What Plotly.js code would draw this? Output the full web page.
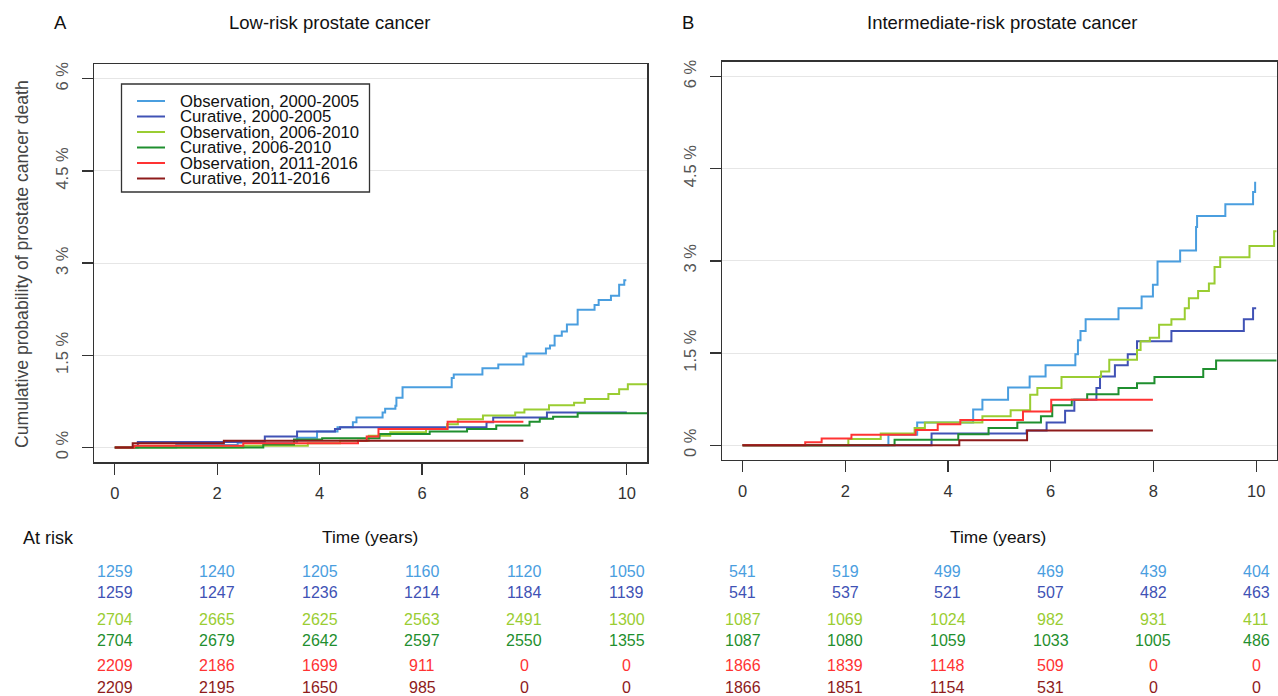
<!DOCTYPE html>
<html>
<head>
<meta charset="utf-8">
<script src="https://cdn.plot.ly/plotly-3.0.1.min.js"></script>
<style>
html,body{margin:0;padding:0;background:#fff;}
#chart{width:1278px;height:696px;}
</style>
</head>
<body>
<div id="chart"></div>
<script>
// ---------- DATA ----------
const seriesNames = ["Observation, 2000-2005","Curative, 2000-2005","Observation, 2006-2010","Curative, 2006-2010","Observation, 2011-2016","Curative, 2011-2016"];

// Panel A: Low-risk prostate cancer (time in years, cumulative probability in %)
const lowObs0005_t = [0, 1.2, 2.4, 3.56, 3.95, 4.35, 4.65, 4.72, 5.23, 5.28, 5.48, 5.5, 5.62, 6.58, 6.62, 7.18, 7.49, 7.98, 8.04, 8.42, 8.5, 8.59, 8.73, 8.83, 9.04, 9.37, 9.45, 9.69, 9.85, 9.95, 9.99];
const lowObs0005_p = [0, 0.04, 0.08, 0.16, 0.26, 0.33, 0.41, 0.49, 0.57, 0.63, 0.68, 0.81, 0.98, 1.13, 1.19, 1.29, 1.35, 1.48, 1.53, 1.61, 1.66, 1.82, 1.89, 2.0, 2.24, 2.32, 2.4, 2.47, 2.65, 2.72, 2.72];
const lowCur0005_t = [0, 0.45, 2.93, 3.56, 4.3, 4.4, 7.26, 7.39, 8.44, 10.0];
const lowCur0005_p = [0, 0.09, 0.18, 0.26, 0.30, 0.33, 0.41, 0.49, 0.57, 0.57];
const lowObs0610_t = [0, 2.51, 3.77, 4.40, 4.96, 5.38, 6.08, 6.49, 6.70, 7.19, 7.82, 8.0, 8.48, 8.97, 9.18, 9.64, 9.85, 10.02, 10.4];
const lowObs0610_p = [0, 0.03, 0.07, 0.11, 0.19, 0.25, 0.30, 0.38, 0.46, 0.52, 0.57, 0.62, 0.69, 0.73, 0.79, 0.87, 0.95, 1.03, 1.03];
const lowCur0610_t = [0, 2.9, 3.5, 4.05, 5.17, 6.15, 6.88, 7.45, 8.1, 8.3, 8.56, 9.04, 10.4];
const lowCur0610_p = [0, 0.05, 0.13, 0.15, 0.22, 0.26, 0.30, 0.36, 0.42, 0.47, 0.50, 0.56, 0.56];
const lowObs1116_t = [0, 0.38, 2.51, 4.75, 4.92, 5.15, 6.5, 7.98];
const lowObs1116_p = [0, 0.03, 0.07, 0.11, 0.18, 0.30, 0.42, 0.42];
const lowCur1116_t = [0, 0.35, 2.13, 7.98];
const lowCur1116_p = [0, 0.07, 0.11, 0.11];

// Panel B: Intermediate-risk prostate cancer
const intObs0005_t = [0, 2.84, 3.40, 4.49, 4.67, 5.17, 5.59, 5.90, 6.48, 6.53, 6.58, 6.68, 7.32, 7.77, 7.99, 8.08, 8.52, 8.83, 8.85, 9.40, 9.94, 9.98, 10.0];
const intObs0005_p = [0, 0.17, 0.37, 0.58, 0.74, 0.94, 1.12, 1.30, 1.48, 1.71, 1.86, 2.05, 2.23, 2.42, 2.61, 2.99, 3.17, 3.55, 3.73, 3.92, 4.12, 4.27, 4.27];
const intCur0005_t = [0, 3.68, 5.53, 5.92, 6.28, 6.46, 6.89, 6.96, 7.25, 7.50, 7.68, 8.35, 9.76, 9.94, 10.0];
const intCur0005_p = [0, 0.19, 0.24, 0.37, 0.56, 0.74, 0.93, 1.12, 1.30, 1.48, 1.69, 1.86, 2.05, 2.23, 2.23];
const intObs0610_t = [0, 2.06, 2.69, 3.35, 3.55, 4.67, 5.22, 5.60, 5.74, 6.21, 6.98, 7.14, 7.68, 7.75, 7.93, 8.11, 8.35, 8.61, 8.69, 8.87, 9.08, 9.19, 9.30, 9.87, 10.35, 10.4];
const intObs0610_p = [0, 0.10, 0.19, 0.28, 0.37, 0.47, 0.57, 0.82, 0.93, 1.11, 1.20, 1.39, 1.55, 1.69, 1.75, 1.96, 2.05, 2.23, 2.39, 2.51, 2.63, 2.90, 3.06, 3.24, 3.48, 3.48];
const intCur0610_t = [0, 2.96, 4.20, 4.79, 5.35, 5.81, 6.03, 6.41, 6.71, 7.32, 7.68, 8.02, 8.97, 9.22, 10.4];
const intCur0610_p = [0, 0.09, 0.18, 0.28, 0.37, 0.47, 0.65, 0.74, 0.83, 0.93, 1.01, 1.11, 1.24, 1.38, 1.38];
const intObs1116_t = [0, 1.22, 1.54, 2.12, 3.37, 3.80, 4.24, 5.46, 6.01, 7.99];
const intObs1116_p = [0, 0.05, 0.11, 0.17, 0.25, 0.34, 0.41, 0.55, 0.74, 0.74];
const intCur1116_t = [0, 4.22, 5.54, 7.99];
const intCur1116_p = [0, 0.08, 0.24, 0.24];

// Numbers at risk
const riskTimes = [0, 2, 4, 6, 8, 10];
const lowRiskObs0005 = [1259, 1240, 1205, 1160, 1120, 1050];
const lowRiskCur0005 = [1259, 1247, 1236, 1214, 1184, 1139];
const lowRiskObs0610 = [2704, 2665, 2625, 2563, 2491, 1300];
const lowRiskCur0610 = [2704, 2679, 2642, 2597, 2550, 1355];
const lowRiskObs1116 = [2209, 2186, 1699, 911, 0, 0];
const lowRiskCur1116 = [2209, 2195, 1650, 985, 0, 0];
const intRiskObs0005 = [541, 519, 499, 469, 439, 404];
const intRiskCur0005 = [541, 537, 521, 507, 482, 463];
const intRiskObs0610 = [1087, 1069, 1024, 982, 931, 411];
const intRiskCur0610 = [1087, 1080, 1059, 1033, 1005, 486];
const intRiskObs1116 = [1866, 1839, 1148, 509, 0, 0];
const intRiskCur1116 = [1866, 1851, 1154, 531, 0, 0];

const yTickVals = [0, 1.5, 3, 4.5, 6];
const yTickText = ["0 %", "1.5 %", "3 %", "4.5 %", "6 %"];

// ---------- STYLE ----------
const seriesColors = ["#4A9EDF", "#4052B5", "#9ACD32", "#1F8F2F", "#FF3333", "#8E1B1B"];
const W = 1278, H = 696;
const px = v => v / W;
const py = v => 1 - v / H;
const FONT = "Liberation Sans, Arial, Helvetica, sans-serif";

const lowT = [lowObs0005_t, lowCur0005_t, lowObs0610_t, lowCur0610_t, lowObs1116_t, lowCur1116_t];
const lowP = [lowObs0005_p, lowCur0005_p, lowObs0610_p, lowCur0610_p, lowObs1116_p, lowCur1116_p];
const intT = [intObs0005_t, intCur0005_t, intObs0610_t, intCur0610_t, intObs1116_t, intCur1116_t];
const intP = [intObs0005_p, intCur0005_p, intObs0610_p, intCur0610_p, intObs1116_p, intCur1116_p];
const lowRisk = [lowRiskObs0005, lowRiskCur0005, lowRiskObs0610, lowRiskCur0610, lowRiskObs1116, lowRiskCur1116];
const intRisk = [intRiskObs0005, intRiskCur0005, intRiskObs0610, intRiskCur0610, intRiskObs1116, intRiskCur1116];

const traces = [];
for (let i = 0; i < 6; i++) {
  traces.push({x: lowT[i], y: lowP[i], xaxis: 'x', yaxis: 'y', type: 'scatter', mode: 'lines',
    line: {shape: 'hv', color: seriesColors[i], width: 2}, name: seriesNames[i], showlegend: false, hoverinfo: 'skip'});
}
for (let i = 0; i < 6; i++) {
  traces.push({x: intT[i], y: intP[i], xaxis: 'x2', yaxis: 'y2', type: 'scatter', mode: 'lines',
    line: {shape: 'hv', color: seriesColors[i], width: 2}, name: seriesNames[i], showlegend: false, hoverinfo: 'skip'});
}

function xAxis(dom, anchor) {
  return {domain: dom, anchor: anchor, range: [-0.4, 10.4], tickvals: [0, 2, 4, 6, 8, 10],
    ticks: 'outside', ticklen: 11, tickwidth: 1.3, tickcolor: '#333',
    showline: true, mirror: true, linecolor: '#333', linewidth: 1.3,
    showgrid: false, zeroline: false, ticklabelstandoff: 5,
    tickfont: {family: FONT, size: 16.5, color: '#333'}, fixedrange: true};
}
function yAxis(dom, anchor) {
  return {domain: dom, anchor: anchor, range: [-0.24, 6.24], tickvals: yTickVals, ticktext: yTickText,
    tickangle: -90, ticks: 'outside', ticklen: 11, tickwidth: 1.3, tickcolor: '#333',
    showline: true, mirror: true, linecolor: '#333', linewidth: 1.3,
    showgrid: true, gridcolor: '#e6e6e6', gridwidth: 1, zeroline: false, ticklabelstandoff: 7,
    tickfont: {family: FONT, size: 16.5, color: '#555'}, fixedrange: true};
}

const annotations = [];
const shapes = [];
function txt(x, y, s, opts) {
  annotations.push(Object.assign({xref: 'paper', yref: 'paper', x: px(x), y: py(y), text: s, showarrow: false,
    xanchor: 'center', yanchor: 'middle', font: {family: FONT, size: 16, color: '#111'}}, opts || {}));
}
const titleFont = {family: FONT, size: 18.5, color: '#111'};
txt(60, 22, 'A', {font: titleFont});
txt(330, 22, 'Low-risk prostate cancer', {font: titleFont});
txt(688, 22, 'B', {font: titleFont});
txt(1002, 22, 'Intermediate-risk prostate cancer', {font: titleFont});
txt(370, 537, 'Time (years)', {font: {family: FONT, size: 17.3, color: '#111'}});
txt(998, 537, 'Time (years)', {font: {family: FONT, size: 17.3, color: '#111'}});
txt(21, 538, 'At risk', {xanchor: 'left', font: {family: FONT, size: 18, color: '#111'}});
txt(22, 264, 'Cumulative probability of prostate cancer death', {textangle: -90, font: {family: FONT, size: 17.6, color: '#444'}});

// at-risk table
const rowY = [571, 592, 619, 640, 665, 687];
for (let i = 0; i < 6; i++) {
  for (let j = 0; j < riskTimes.length; j++) {
    annotations.push({xref: 'x', yref: 'paper', x: riskTimes[j], y: py(rowY[i]), text: String(lowRisk[i][j]),
      showarrow: false, xanchor: 'center', yanchor: 'middle', font: {family: FONT, size: 16, color: seriesColors[i]}});
    annotations.push({xref: 'x2', yref: 'paper', x: riskTimes[j], y: py(rowY[i]), text: String(intRisk[i][j]),
      showarrow: false, xanchor: 'center', yanchor: 'middle', font: {family: FONT, size: 16, color: seriesColors[i]}});
  }
}

// legend (panel A)
shapes.push({type: 'rect', xref: 'paper', yref: 'paper', x0: px(121.5), x1: px(369.5), y0: py(192), y1: py(84),
  line: {color: '#333', width: 1.3}, fillcolor: 'white', layer: 'above'});
const legY = [101, 116.5, 132, 147.5, 163, 178.5];
for (let i = 0; i < 6; i++) {
  shapes.push({type: 'line', xref: 'paper', yref: 'paper', x0: px(137), x1: px(165), y0: py(legY[i]), y1: py(legY[i]),
    line: {color: seriesColors[i], width: 2}, layer: 'above'});
  txt(178, legY[i], seriesNames[i], {xanchor: 'left', font: {family: FONT, size: 16.7, color: '#111'}});
}

const layout = {
  width: W, height: H, margin: {l: 0, r: 0, t: 0, b: 0},
  paper_bgcolor: 'white', plot_bgcolor: 'white', showlegend: false,
  font: {family: FONT, size: 16, color: '#222'},
  xaxis: xAxis([px(94.3), px(647.3)], 'y'),
  yaxis: yAxis([py(462.3), py(64)], 'x'),
  xaxis2: xAxis([px(722), px(1276.7)], 'y2'),
  yaxis2: yAxis([py(460), py(61.7)], 'x2'),
  annotations: annotations, shapes: shapes
};

Plotly.newPlot('chart', traces, layout, {staticPlot: true, displayModeBar: false});
</script>
</body>
</html>
